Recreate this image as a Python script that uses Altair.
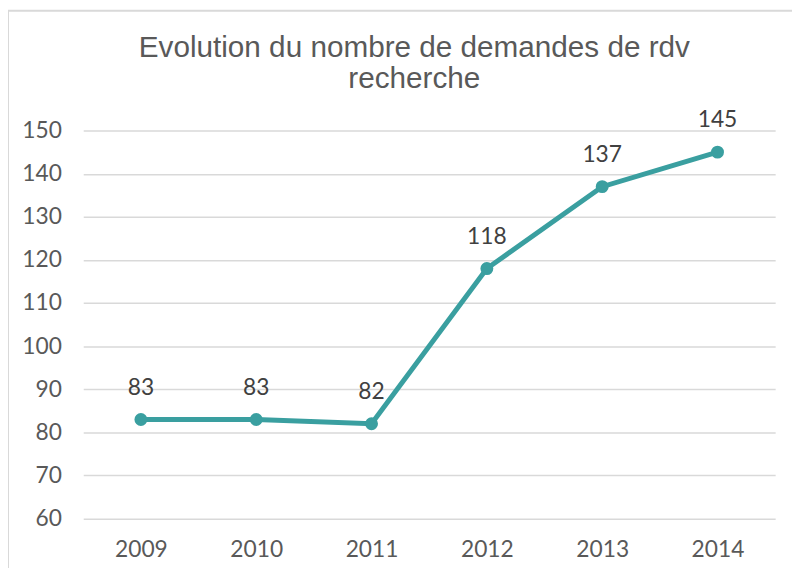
import altair as alt
import pandas as pd

years = ["2009", "2010", "2011", "2012", "2013", "2014"]
values = [83, 83, 82, 118, 137, 145]
y_ticks = [60, 70, 80, 90, 100, 110, 120, 130, 140, 150]

df = pd.DataFrame({"year": years, "value": values})

W, H = 699, 392
color = "#3A9FA0"
num_font = "Lato"

x = alt.X("year:N", sort=years, title=None,
          scale=alt.Scale(type="point", padding=0.5),
          axis=alt.Axis(labelAngle=0, ticks=False, domain=False, grid=False,
                        labelPadding=20, labelFontSize=23, labelColor="#595959",
                        labelFont=num_font))
y = alt.Y("value:Q", title=None,
          scale=alt.Scale(domain=[60, 150], nice=False, zero=False),
          axis=alt.Axis(values=y_ticks, ticks=False, domain=False,
                        gridColor="#d9d9d9", gridWidth=1.5,
                        labelPadding=22, labelFontSize=23, labelColor="#595959",
                        labelFont=num_font))

base = alt.Chart(df).encode(x=x, y=y)

line = base.mark_line(color=color, strokeWidth=5)
points = base.mark_point(color=color, filled=True, opacity=1, size=170)
labels = base.mark_text(dy=-32, fontSize=23, color="#404040", font=num_font).encode(text="value:Q")

border = alt.Chart(pd.DataFrame({"a": [0]})).mark_rect(
    fill=None, stroke="#d9d9d9", strokeWidth=2, clip=False
).encode(x=alt.value(-76), x2=alt.value(760), y=alt.value(-121), y2=alt.value(480))

chart = alt.layer(border, line, points, labels).properties(
    width=W, height=H,
    autosize=alt.AutoSizeParams(type="none"),
    padding={"left": 76, "top": 121, "right": 17, "bottom": 47},
    title=alt.TitleParams(
        text=["Evolution du nombre de demandes de rdv", "recherche"],
        font="Liberation Sans", fontSize=30, fontWeight="normal",
        color="#595959", anchor="middle", dx=-15, offset=-85, lineHeight=31,
    ),
).configure_view(stroke=None)

chart.save("out.html", embed_options={"renderer": "svg", "actions": False})
